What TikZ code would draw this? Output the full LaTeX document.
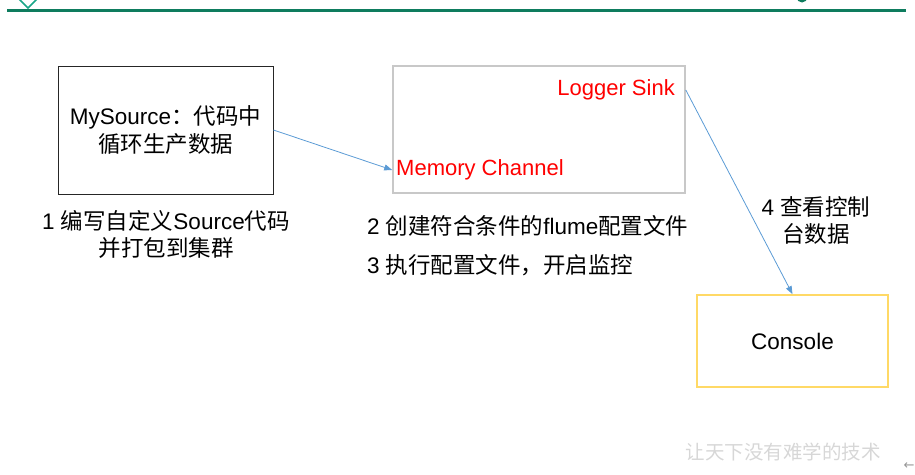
\documentclass[tikz,border=0pt]{standalone}
\usepackage{fontspec}
\setmainfont{Liberation Sans}
\newfontfamily\cjk{Noto Sans CJK SC}
\newfontfamily\symfont{DejaVu Sans}
\usetikzlibrary{arrows.meta}
\definecolor{topgreen}{RGB}{14,124,94}
\definecolor{chevgreen}{RGB}{24,165,135}
\definecolor{srcblack}{RGB}{38,38,38}
\definecolor{chgray}{RGB}{200,200,200}
\definecolor{congold}{RGB}{255,217,102}
\definecolor{arrowblue}{RGB}{91,155,213}
\definecolor{wmgray}{RGB}{215,215,215}
\definecolor{navgray}{RGB}{150,150,150}
\begin{document}
\begin{tikzpicture}[x=1pt,y=-1pt,
  font=\fontsize{22.5}{27}\selectfont,
  conn/.style={draw=arrowblue, line width=0.8pt, -{Triangle[length=8pt,width=6pt]}},
  txt/.style={inner sep=0pt, align=center, text=black},
  redtxt/.style={inner sep=0pt, text=red, font=\fontsize{22}{26}\selectfont}]
\useasboundingbox (0,0) rectangle (915,474);
% top decoration
\draw[topgreen, line width=3pt] (7,10) -- (906,10);
\draw[chevgreen, line width=1.5pt] (19,-1) -- (28,8) -- (37,-1);
\fill[topgreen] (802,-3) circle (5.5);
% boxes
\node[draw=srcblack, line width=1pt, minimum width=215, minimum height=128, align=center, inner sep=0pt] (src) at (165.5,130)
  {MySource{\cjk ：代码中}\\[1pt]{\cjk 循环生产数据}};
\node[draw=chgray, line width=1.6pt, minimum width=292, minimum height=127, inner sep=0pt] (chan) at (539,129.5) {};
\node[redtxt, anchor=east] (sink) at (675,90) {Logger Sink};
\node[redtxt, anchor=west] (mem) at (396,170) {Memory Channel};
\node[draw=congold, line width=1.6pt, minimum width=191, minimum height=92, inner sep=0pt] (con) at (792.5,341) {Console};
% connectors
\draw[conn] (src.east) -- (chan.west |- mem.west);
\draw[conn] (chan.east |- sink.east) -- (con.north);
% captions
\node[txt] (t1) at (166,234) {1 {\cjk 编写自定义}Source{\cjk 代码}\\{\cjk 并打包到集群}};
\node[txt, anchor=west] (t2) at (367,226) {2 {\cjk 创建符合条件的}flume{\cjk 配置文件}};
\node[txt, anchor=west] (t3) at (367,265) {3 {\cjk 执行配置文件，开启监控}};
\node[txt] (t4) at (816,220) {4 {\cjk 查看控制}\\{\cjk 台数据}};
% watermark and nav
\node[inner sep=0pt, text=wmgray, font=\cjk\fontsize{19.5}{20}\selectfont] (wm) at (783,452) {让天下没有难学的技术};
\node[inner sep=0pt, text=navgray, font=\symfont\fontsize{13}{13}\selectfont] (nav) at (909,466) {←};
\end{tikzpicture}
\end{document}
